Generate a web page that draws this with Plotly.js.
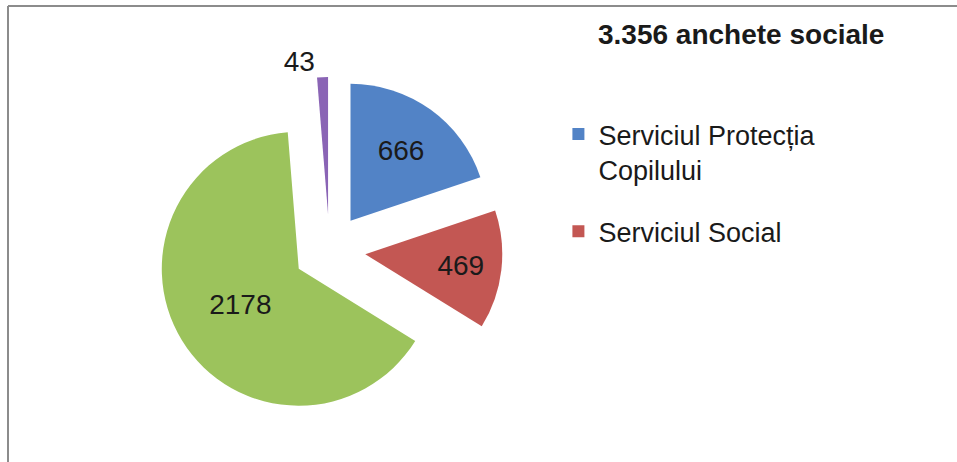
<!DOCTYPE html>
<html>
<head>
<meta charset="utf-8">
<script src="https://cdn.plot.ly/plotly-3.0.1.min.js"></script>
<style>html,body{margin:0;padding:0;background:#fff;}#chart{width:957px;height:462px;}</style>
</head>
<body>
<div id="chart"></div>
<script>
const sliceLabels = ['Serviciul Protecția Copilului', 'Serviciul Social', 'Altele', 'Alte servicii'];
const sliceValues = [666, 469, 2178, 43];
const sliceColors = ['#5283C6', '#C35753', '#9CC35C', '#8A64B5'];
const legendLabels = ['Serviciul Protecția<br>Copilului', 'Serviciul Social'];
const legendColors = ['#5283C6', '#C35753'];
const chartTitle = '3.356 anchete sociale';

const FONT = 'Liberation Sans, Arial, sans-serif';

const data = [{
  type: 'pie',
  labels: sliceLabels,
  values: sliceValues,
  marker: {colors: sliceColors, line: {width: 0}},
  sort: false,
  direction: 'clockwise',
  rotation: 0,
  pull: sliceValues.map(() => 0.263),
  textinfo: 'value',
  textposition: ['inside', 'inside', 'inside', 'outside'],
  insidetextorientation: 'horizontal',
  textfont: {family: FONT, size: 28, color: '#1a1a1a'},
  outsidetextfont: {family: FONT, size: 28, color: '#1a1a1a'},
  domain: {x: [0.1635, 0.5251], y: [0.0844, 0.8333]},
  showlegend: false,
  hoverinfo: 'label+value'
}];

legendLabels.forEach((lab, i) => {
  data.push({
    type: 'scatter', mode: 'markers',
    x: [null], y: [null],
    name: lab,
    legendgroup: 'g' + i,
    marker: {symbol: 'square', size: 12, color: legendColors[i]},
    showlegend: true
  });
});

const layout = {
  width: 957, height: 462,
  margin: {l: 0, r: 0, t: 0, b: 0},
  paper_bgcolor: '#ffffff',
  plot_bgcolor: '#ffffff',
  font: {family: FONT, color: '#1a1a1a'},
  title: {
    text: '<b>' + chartTitle + '</b>',
    font: {family: FONT, size: 28, color: '#1a1a1a'},
    x: 0.6249, xanchor: 'left', xref: 'paper',
    y: 0.926, yanchor: 'middle', yref: 'container'
  },
  xaxis: {visible: false},
  yaxis: {visible: false},
  showlegend: true,
  legend: {
    x: 0.5835, xanchor: 'left',
    y: 0.762, yanchor: 'top',
    font: {family: FONT, size: 27, color: '#1a1a1a'},
    valign: 'top',
    tracegroupgap: 24,
    bgcolor: 'rgba(0,0,0,0)',
    borderwidth: 0
  },
  shapes: [
    {type: 'line', xref: 'paper', yref: 'paper', x0: 0.00836, x1: 1, y0: 0.987, y1: 0.987, line: {color: '#8c8c8c', width: 2}},
    {type: 'line', xref: 'paper', yref: 'paper', x0: 0.00836, x1: 0.00836, y0: 0, y1: 0.987, line: {color: '#8c8c8c', width: 2}}
  ]
};

Plotly.newPlot('chart', data, layout, {displayModeBar: false, staticPlot: true});
</script>
</body>
</html>
